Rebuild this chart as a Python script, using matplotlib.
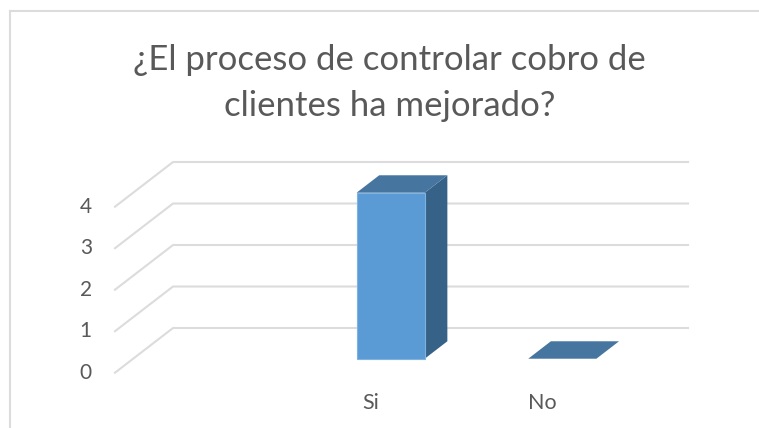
import matplotlib
matplotlib.use("Agg")
import matplotlib.pyplot as plt
from matplotlib.lines import Line2D

categories = ["", "Si", "No"]
values = [None, 4, 0]
y_ticks = [0, 1, 2, 3, 4]
title = "¿El proceso de controlar cobro de\nclientes ha mejorado?"

W, H = 759, 428
# how far the back wall sits from the front plane, in data units
depth_x = 0.338
depth_y = 1.077
bar_width = 0.397
bar_d0 = 0.313
bar_d1 = 0.703

grid_c = "#DCDCDC"
text_c = "#595959"
front_c = "#5B9BD5"
top_c = "#4675A0"
side_c = "#376288"

plt.rcParams["font.family"] = ["Lato", "DejaVu Sans"]

fig = plt.figure(figsize=(W / 100, H / 100), dpi=100)
ax = fig.add_axes([115 / W, 1 - 372.7 / H, 515 / W, 166 / H])
ax.set_xlim(-0.5, 2.5)
ax.set_ylim(0, 4)
ax.axis("off")


def shear(x, y, d):
    return x + depth_x * d, y + depth_y * d


# chart frame, cropped on the right and at the bottom
for xs, ys in [((9.5, 9.5), (428, 11)), ((9.5, 759), (11, 11))]:
    fig.add_artist(Line2D([a / W for a in xs], [1 - b / H for b in ys], color=grid_c, lw=1.5))

# gridlines: side wall diagonal then back wall
for t in y_ticks:
    x0, y0 = shear(-0.5, t, 0)
    x1, y1 = shear(-0.5, t, 1)
    x2, y2 = shear(2.5, t, 1)
    ax.plot([x0, x1, x2], [y0, y1, y2], color=grid_c, lw=1.5, clip_on=False, zorder=1)
    ax.text(-0.5 - 0.135, t, str(t), ha="right", va="center", color=text_c, fontsize=15, clip_on=False)

for i, (c, v) in enumerate(zip(categories, values)):
    ax.text(i - 0.008, -0.72, c, ha="center", va="center", color=text_c, fontsize=15.5, clip_on=False)
    if v is None:
        continue
    l = i - bar_width / 2
    r = i + bar_width / 2
    fl, b = shear(l, 0, bar_d0)
    fr, _ = shear(r, 0, bar_d0)
    bl, bd = shear(l, 0, bar_d1)
    br, _ = shear(r, 0, bar_d1)
    dy = bd - b
    # side, top, front
    ax.fill([fr, br, br, fr], [b, b + dy, b + dy + v, b + v], color=side_c, lw=0, clip_on=False, zorder=3)
    ax.fill([fl, bl, br, fr], [b + v, b + dy + v, b + dy + v, b + v], color=top_c, lw=0, clip_on=False, zorder=4)
    if v > 0:
        ax.fill([fl, fr, fr, fl], [b, b, b + v, b + v], facecolor=front_c, edgecolor="#7FB2E0", lw=0.8,
                clip_on=False, zorder=5)

fig.text(389.5 / W, 1 - 83 / H, title, ha="center", va="center", color=text_c, fontsize=25, linespacing=1.56)

fig.savefig("out.png", dpi=100, facecolor="white")
